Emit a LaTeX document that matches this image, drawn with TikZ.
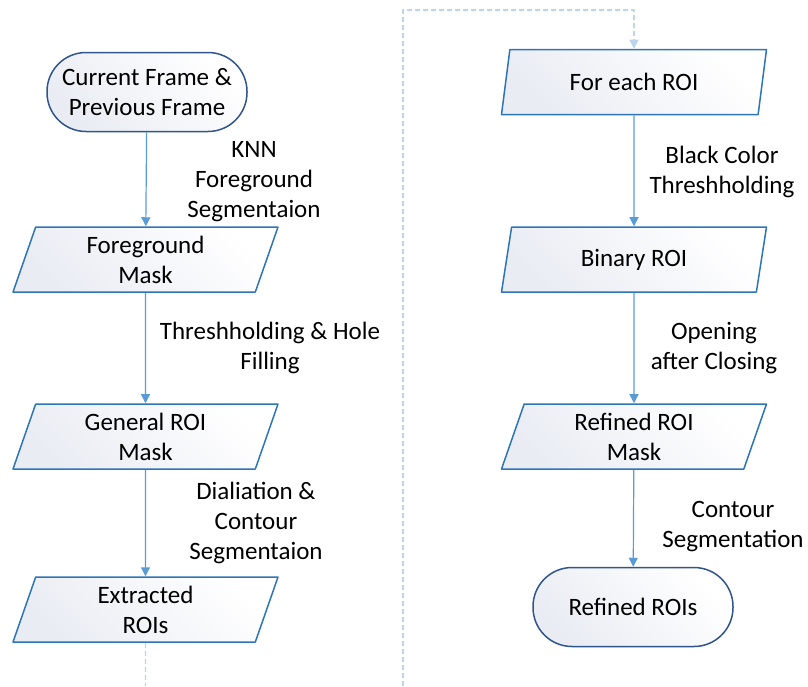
\documentclass[tikz,border=0pt]{standalone}
\usepackage{fontspec}
\setmainfont{Carlito}
\usetikzlibrary{shapes.geometric,arrows.meta}
\definecolor{termline}{RGB}{47,85,140}
\definecolor{boxline}{RGB}{46,117,182}
\definecolor{arrowblue}{RGB}{91,155,213}
\definecolor{backblue}{RGB}{189,212,238}
\definecolor{shadegray}{RGB}{233,236,243}
\begin{document}
\begin{tikzpicture}[x=1pt, y=-1pt, font=\fontsize{25}{30}\selectfont, line join=round,
	termbox/.style={rectangle, rounded corners=39pt, minimum width=200pt, minimum height=79pt, draw=termline, line width=1.5pt, top color=shadegray, bottom color=white, shading angle=135, align=center, inner sep=0pt},
	databox/.style={trapezium, trapezium left angle=64.5, trapezium right angle=115.5, trapezium stretches body, minimum width=265pt, minimum height=65pt, draw=boxline, line width=1.5pt, top color=shadegray, bottom color=white, shading angle=135, align=center, inner sep=0pt},
	flowline/.style={-{Triangle[width=9pt,length=9pt]}, arrowblue, line width=1.2pt},
	backline/.style={backblue, line width=1.2pt, dash pattern=on 5pt off 3pt},
	steplabel/.style={align=center, inner sep=0pt}]
	\useasboundingbox (0,0) rectangle (808,686);
	% left column
	\node[termbox] (frames) at (147,92) {Current Frame \&\\Previous Frame};
	\node[databox] (fgmask) at (145.5,259.5) {Foreground\\Mask};
	\node[databox] (genmask) at (145.5,436.5) {General ROI\\Mask};
	\node[databox] (rois) at (145.5,609.5) {Extracted\\ROIs};
	% right column
	\node[databox] (each) at (634,82) {For each ROI};
	\node[databox] (binroi) at (634,259.5) {Binary ROI};
	\node[databox] (refmask) at (634,436.5) {Refined ROI\\Mask};
	\node[termbox] (refrois) at (633,607) {Refined ROIs};
	% step labels
	\node[steplabel] (knn) at (254,182) {KNN\\Foreground\\Segmentaion};
	\node[steplabel] (thresh) at (270,348) {Threshholding \& Hole\\Filling};
	\node[steplabel] (dilate) at (256,523) {Dialiation \&\\Contour\\Segmentaion};
	\node[steplabel] (black) at (722,172) {Black Color\\Threshholding};
	\node[steplabel] (open) at (714,348) {Opening\\after Closing};
	\node[steplabel] (contour) at (733,527) {Contour\\Segmentation};
	% connectors
	\draw[flowline] (frames)--(fgmask);
	\draw[flowline] (fgmask)--(genmask);
	\draw[flowline] (genmask)--(rois);
	\draw[flowline] (each)--(binroi);
	\draw[flowline] (binroi)--(refmask);
	\draw[flowline] (refmask)--(refrois);
	% loop back to the next ROI
	\coordinate (roisend) at (145.5,686);
	\coordinate (loopstart) at (403,686);
	\coordinate (looptop) at (403,10);
	\draw[backline] (rois)--(roisend);
	\draw[backline, -{Triangle[width=9pt,length=9pt]}] (loopstart)--(looptop)-|(each);
\end{tikzpicture}
\end{document}
